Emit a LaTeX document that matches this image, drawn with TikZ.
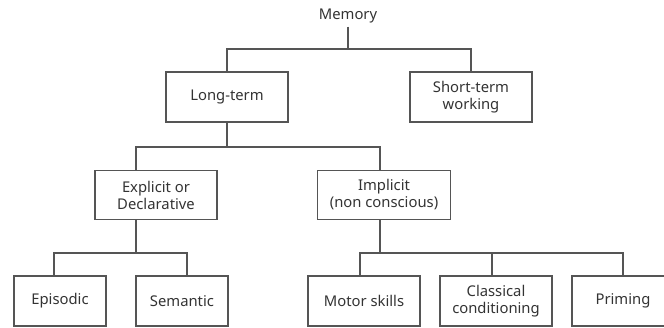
\documentclass[tikz,border=0pt]{standalone}
\usepackage{fontspec}
\setmainfont{Noto Sans}
\usetikzlibrary{positioning}
\definecolor{linegray}{HTML}{555555}
\definecolor{textgray}{HTML}{333333}

\begin{document}
\begin{tikzpicture}[x=1pt,y=-1pt,
	box/.style={draw=linegray, line width=1.1pt, minimum height=50pt, inner sep=0pt,
		align=center, text=textgray, font=\fontsize{14.8}{17}\selectfont},
	link/.style={draw=linegray, line width=1.1pt}]
	\clip (0,0) rectangle (664,328);
	
	\node[text=textgray, font=\fontsize{14.8}{17}\selectfont] (mem) at (348,16) {Memory};
	
	\node[box, minimum width=122pt] (lt) at (227,97) {Long-term};
	\node[box, minimum width=122pt] (st) at (471,97) {Short-term\\working};
	
	\node[box, minimum width=122pt, minimum height=49pt] (ex) at (156,195) {Explicit or\\Declarative};
	\node[box, minimum width=133pt, minimum height=49pt] (im) at (384,195) {Implicit\\(non conscious)};
	
	\node[box, minimum width=92pt] (epi) at (60,301) {Episodic};
	\node[box, minimum width=92pt] (sem) at (182,301) {Semantic};
	\node[box, minimum width=112pt] (mot) at (364,301) {Motor skills};
	\node[box, minimum width=112pt] (cla) at (496,301) {Classical\\conditioning};
	\node[box, minimum width=102pt] (pri) at (623,301) {Priming};
	
	\coordinate (memb) at (348,49);
	\coordinate (ltb) at (227,147);
	\coordinate (exs) at (136,147);
	\coordinate (ims) at (380,147);
	\coordinate (exb) at (136,253);
	\coordinate (epis) at (54,253);
	\coordinate (sems) at (187,253);
	\coordinate (imb) at (380,253);
	\coordinate (mots) at (360,253);
	\coordinate (clas) at (492,253);
	\coordinate (pris) at (623,253);
	
	\draw[link] (mem) -- (memb);
	\draw[link] (lt) |- (memb) -| (st);
	
	\draw[link] (lt) -- (ltb);
	\draw[link] (exs |- ex.north) -- (exs) -- (ims) -- (ims |- im.north);
	
	\draw[link] (exb |- ex.south) -- (exb);
	\draw[link] (epis |- epi.north) -- (epis) -- (sems) -- (sems |- sem.north);
	
	\draw[link] (imb |- im.south) -- (imb);
	\draw[link] (mots |- mot.north) -- (mots) -- (pris) -- (pris |- pri.north);
	\draw[link] (clas) -- (clas |- cla.north);
\end{tikzpicture}
\end{document}
